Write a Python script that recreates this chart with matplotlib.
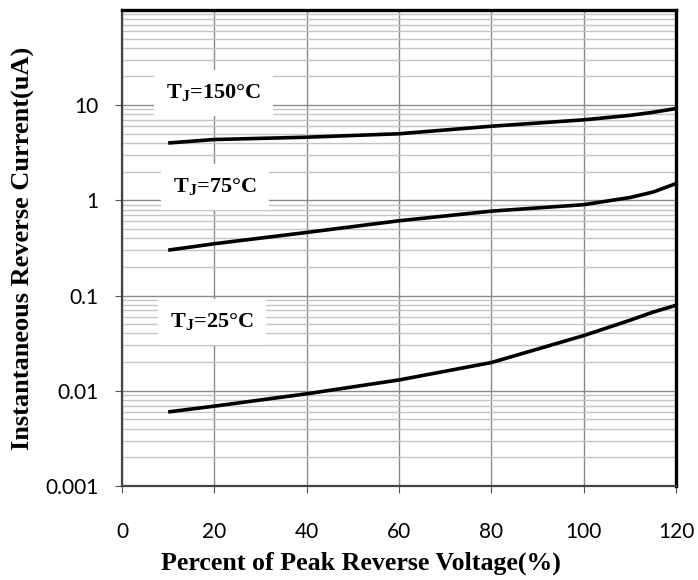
import numpy as np
import matplotlib
matplotlib.use("Agg")
import matplotlib.pyplot as plt
from matplotlib.ticker import FixedLocator, LogLocator, FuncFormatter, NullFormatter

# percent of peak reverse voltage
volt = [10, 20, 40, 60, 80, 100, 110, 115, 120]
# reverse current (uA) per junction temperature
cur_150 = [4.0, 4.35, 4.6, 5.0, 6.0, 7.0, 7.8, 8.4, 9.2]
cur_75 = [0.30, 0.35, 0.46, 0.61, 0.77, 0.90, 1.07, 1.22, 1.5]
cur_25 = [0.0060, 0.0069, 0.0093, 0.013, 0.0198, 0.038, 0.055, 0.067, 0.079]

labels = [r'T$_\mathregular{J}$=150°C', r'T$_\mathregular{J}$=75°C', r'T$_\mathregular{J}$=25°C']
label_pos = [(19.8, 13.3), (20.2, 1.37), (19.5, 0.053)]

x_ticks = [0, 20, 40, 60, 80, 100, 120]
y_ticks = [0.001, 0.01, 0.1, 1, 10]
y_ticklabels = ['0.001', '0.01', '0.1', '1', '10']

fig = plt.figure(figsize=(6.98, 5.8), dpi=100)
ax = fig.add_axes([0.1748, 0.162, 0.7937, 0.821])

for c in [cur_150, cur_75, cur_25]:
    ax.plot(volt, c, color='black', lw=2.6, solid_capstyle='butt', zorder=3)

ax.set_yscale('log')
ax.set_xlim(0, 120)
ax.set_ylim(0.001, 100)

ax.xaxis.set_major_locator(FixedLocator(x_ticks))
ax.yaxis.set_major_locator(FixedLocator(y_ticks))
ax.yaxis.set_major_formatter(FuncFormatter(lambda v, p: y_ticklabels[p] if p < len(y_ticklabels) else ''))
ax.yaxis.set_minor_locator(LogLocator(base=10, subs=np.arange(2, 10)))
ax.yaxis.set_minor_formatter(NullFormatter())

ax.grid(True, which='major', axis='both', color='#8a8a8a', lw=1.0, zorder=0)
ax.grid(True, which='minor', axis='y', color='#c4c4c4', lw=1.0, zorder=0)
ax.set_axisbelow(True)

ax.tick_params(axis='both', which='major', direction='out', length=5, color='#555555',
               labelsize=15)
ax.tick_params(axis='x', pad=21)
ax.tick_params(axis='y', pad=12)
ax.tick_params(axis='y', which='minor', length=0)
for lab in ax.get_xticklabels() + ax.get_yticklabels():
    lab.set_family('Lato')

for s in ['top', 'right']:
    ax.spines[s].set_linewidth(2.4)
    ax.spines[s].set_color('black')
for s in ['left', 'bottom']:
    ax.spines[s].set_linewidth(1.6)
    ax.spines[s].set_color('#444444')

for txt, (lx, ly) in zip(labels, label_pos):
    ax.text(lx, ly, txt, ha='center', va='center', fontsize=16, fontweight='bold',
            family='Liberation Serif', zorder=4,
            bbox=dict(boxstyle='square,pad=0.55', fc='white', ec='none'))

ax.set_xlabel('Percent of Peak Reverse Voltage(%)', fontsize=18.6, fontweight='bold',
              family='Liberation Serif')
ax.xaxis.set_label_coords(0.431, -0.138)
ax.set_ylabel('Instantaneous Reverse Current(uA)', fontsize=19, fontweight='bold',
              family='Liberation Serif', labelpad=7)

fig.savefig('out.png', dpi=100)
